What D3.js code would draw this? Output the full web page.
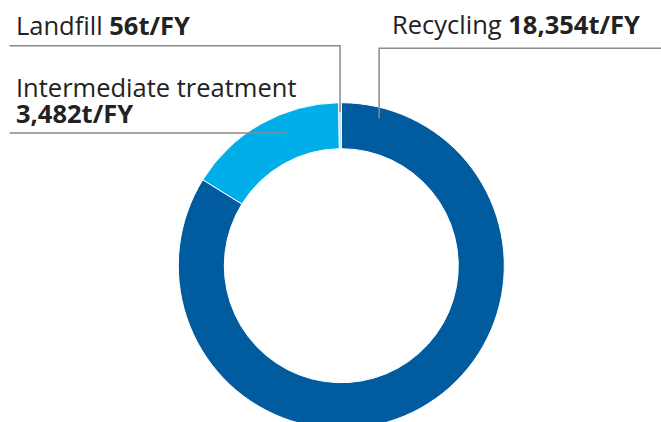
<!DOCTYPE html>
<html>
<head>
<meta charset="utf-8">
<script src="https://cdn.jsdelivr.net/npm/d3@7"></script>
<style>
  body { margin: 0; background: #fff; }
  svg { display: block; font-family: "Open Sans", "Noto Sans", sans-serif; }
</style>
</head>
<body>
<div id="chart"></div>
<script>
const categories = ["Recycling", "Intermediate treatment", "Landfill"];
const values = [18354, 3482, 56];
const valueLabels = ["18,354t/FY", "3,482t/FY", "56t/FY"];

const width = 661;
const height = 422;
const cx = 341.3;
const cy = 265.7;
const outerR = 163;
const innerR = 117;

const colors = d3.scaleOrdinal()
    .domain(categories)
    .range(["#005c9f", "#00aeea", "#b9d6ec"]);

const svg = d3.select("#chart")
    .append("svg")
    .attr("width", width)
    .attr("height", height);

const pie = d3.pie().sort(null).value(d => d.value);
const arcs = pie(categories.map((c, i) => ({ name: c, value: values[i] })));

const arc = d3.arc().innerRadius(innerR).outerRadius(outerR);

const g = svg.append("g").attr("transform", `translate(${cx},${cy})`);

g.selectAll("path")
    .data(arcs)
    .enter()
    .append("path")
    .attr("d", arc)
    .attr("fill", d => colors(d.data.name))
    .attr("stroke", "#fff")
    .attr("stroke-width", 1);

// point on the ring at angle (radians, clockwise from top) and radius
function polar(angle, r) {
    return [cx + r * Math.sin(angle), cy - r * Math.cos(angle)];
}

const deg = Math.PI / 180;
const lineColor = "#8a8a8a";

// recycling: leader from inside ring up and off to the right
let p = polar(arcs[0].startAngle + 14.4 * deg, 152);
svg.append("polyline")
    .attr("points", [[p[0], p[1]], [p[0], 48.3], [width, 48.3]].join(" "))
    .attr("fill", "none").attr("stroke", lineColor).attr("stroke-width", 1.5);

// landfill: leader from the sliver up and left
p = polar((arcs[2].startAngle + arcs[2].endAngle) / 2, 154);
svg.append("polyline")
    .attr("points", [[p[0], p[1]], [p[0], 45.7], [9.5, 45.7]].join(" "))
    .attr("fill", "none").attr("stroke", lineColor).attr("stroke-width", 1.5);

// intermediate treatment: horizontal leader
p = polar(2 * Math.PI - 22.8 * deg, 144);
svg.append("line")
    .attr("x1", 9.5).attr("y1", p[1])
    .attr("x2", p[0]).attr("y2", p[1])
    .attr("stroke", lineColor).attr("stroke-width", 1.5);

const textColor = "#222";
const fontSize = 25.5;

function label(x, y, name, value) {
    const t = svg.append("text")
        .attr("x", x).attr("y", y)
        .attr("font-size", fontSize)
        .attr("fill", textColor);
    if (name) t.append("tspan").text(name + (value ? " " : ""));
    if (value) t.append("tspan").attr("font-weight", "bold").text(value);
    return t;
}

label(16, 34.5, categories[2], valueLabels[2]);
label(392, 33.5, categories[0], valueLabels[0]);
label(16, 97, categories[1], null);
label(16, 122.5, null, valueLabels[1]);
</script>
</body>
</html>
